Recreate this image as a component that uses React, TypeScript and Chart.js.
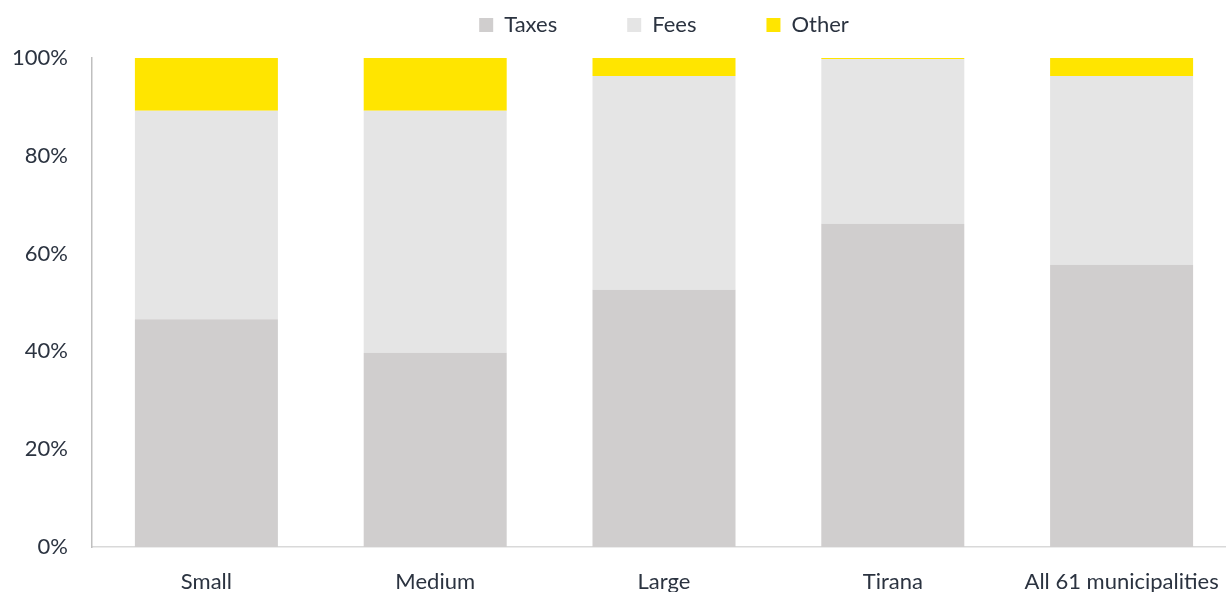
import React, { useEffect, useRef } from "react";
import { Chart, registerables } from "chart.js";

Chart.register(...registerables);

const categories = ["Small", "Medium", "Large", "Tirana", "All 61 municipalities"];
const taxes = [46.6, 39.7, 52.6, 66.1, 57.7];
const fees = [42.6, 49.5, 43.7, 33.7, 38.6];
const other = [10.8, 10.8, 3.7, 0.2, 3.7];
const yTicks = [0, 20, 40, 60, 80, 100];

const TEXT = "#2b3340";
const FONT = "Lato";

export default function App() {
  const ref = useRef<HTMLCanvasElement | null>(null);

  useEffect(() => {
    if (!ref.current) return;
    const legendPatch = {
      id: "legendPatch",
      afterInit(chart: any) {
        const lg = chart.legend;
        if (!lg) return;
        const orig = lg.fit.bind(lg);
        lg.fit = function () {
          orig();
          this.height = 114;
        };
      },
    };
    const chart = new Chart(ref.current, {
      type: "bar",
      data: {
        labels: categories,
        datasets: [
          { label: "Taxes", data: taxes, backgroundColor: "#D0CECE", borderWidth: 0 },
          { label: "Fees", data: fees, backgroundColor: "#E5E5E5", borderWidth: 0 },
          { label: "Other", data: other, backgroundColor: "#FFE500", borderWidth: 0 },
        ],
      },
      options: {
        responsive: false,
        animation: false,
        layout: { padding: { top: -56, left: 0, right: 0, bottom: 0 } },
        datasets: { bar: { categoryPercentage: 1, barPercentage: 0.625 } },
        plugins: {
          legend: {
            position: "top",
            fullSize: false,
            labels: {
              boxWidth: 14,
              boxHeight: 14,
              padding: 70,
              color: TEXT,
              font: { family: FONT, size: 22 },
            },
          },
          tooltip: { enabled: false },
        },
        scales: {
          x: {
            stacked: true,
            grid: { display: false, drawTicks: false },
            border: { display: true, color: "#D9D9D9", width: 1.5 },
            ticks: { color: TEXT, font: { family: FONT, size: 22 }, padding: 22, maxRotation: 0 },
            afterFit(scale: any) {
              scale.height = 45;
              scale.paddingLeft = 0;
              scale.paddingRight = 0;
            },
          },
          y: {
            stacked: true,
            min: 0,
            max: 100,
            afterBuildTicks(scale: any) {
              scale.ticks = yTicks.map((v) => ({ value: v }));
            },
            grid: { display: false, drawTicks: false },
            border: { display: true, color: "#BFBFBF", width: 1.5 },
            ticks: {
              color: TEXT,
              font: { family: FONT, size: 22 },
              padding: 24,
              callback: (v: any) => v + "%",
            },
            afterFit(scale: any) {
              scale.width = 92;
            },
          },
        },
      },
      plugins: [legendPatch],
    } as any);
    return () => chart.destroy();
  }, []);

  return (
    <div
      style={{
        position: "fixed",
        left: 0,
        top: 0,
        width: 1226,
        height: 592,
        overflow: "hidden",
        background: "#fff",
      }}
    >
      <canvas ref={ref} width={1236} height={592} style={{ display: "block" }} />
    </div>
  );
}
